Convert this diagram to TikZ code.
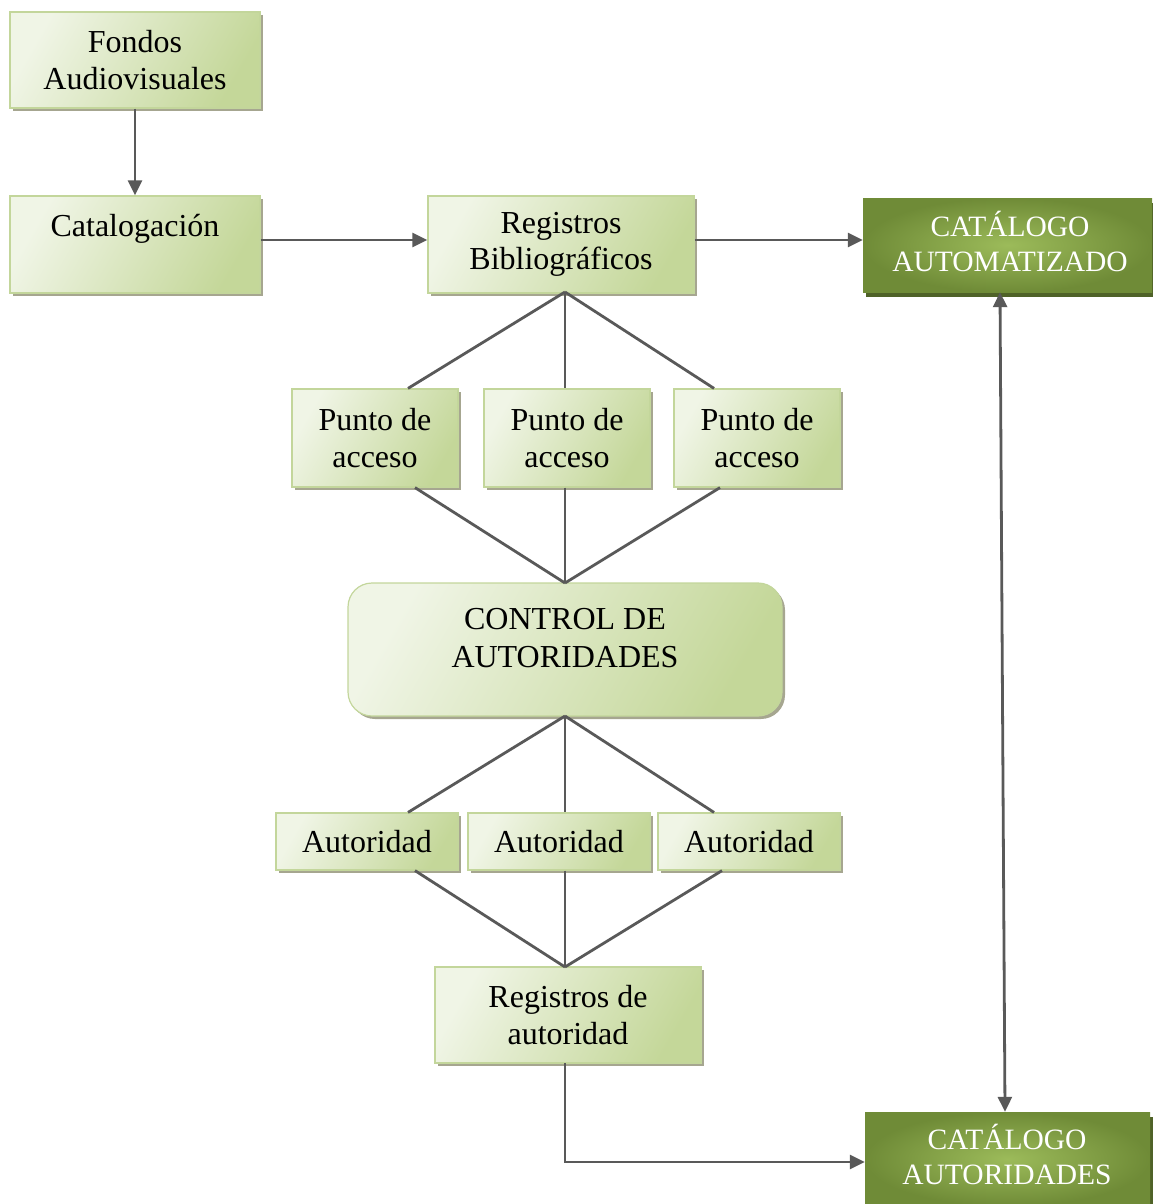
\documentclass[tikz,border=0pt]{standalone}
\usepackage{fontspec}
\setmainfont{Liberation Serif}
\usetikzlibrary{shadows,arrows.meta}
\definecolor{lgA}{HTML}{F0F5E6}
\definecolor{lgB}{HTML}{C4D799}
\definecolor{lgEdge}{HTML}{C3D69B}
\definecolor{dgIn}{HTML}{9CBB5A}
\definecolor{dgOut}{HTML}{6F8B37}
\definecolor{dgShadow}{HTML}{4F6228}
\definecolor{lgShadow}{HTML}{9C9C84}
\definecolor{wire}{HTML}{595959}
\tikzset{
  lightbox/.style={draw=lgEdge, line width=1.2pt, shading=axis, left color=lgA, right color=lgB,
    shading angle=60, align=center, font=\fontsize{32}{36.5}\selectfont, inner sep=0pt,
    drop shadow={shadow xshift=3pt, shadow yshift=-3pt, fill=lgShadow, opacity=0.9}},
  darkbox/.style={draw=none, inner color=dgIn, outer color=dgOut, inner sep=0pt,
    drop shadow={shadow xshift=3pt, shadow yshift=-5pt, fill=dgShadow, opacity=1}},
  plaintext/.style={align=center, font=\fontsize{32}{37.5}\selectfont, inner sep=0pt},
  darktext/.style={align=center, text=white, font=\fontsize{29.5}{35}\selectfont, inner sep=0pt},
  wireline/.style={draw=wire, line width=2.8pt},
  wirearrow/.style={wireline, -{Triangle[length=15pt, width=14pt]}},
  wirebiarrow/.style={wireline, {Triangle[length=15pt, width=14pt]}-{Triangle[length=15pt, width=14pt]}},
}
\begin{document}
\begin{tikzpicture}[x=1pt, y=-1pt]
\useasboundingbox (0,0) rectangle (1152,1204);

% top row
\node[lightbox, minimum width=250pt, minimum height=96pt] (fondos) at (135,60) {Fondos\\Audiovisuales};
\node[lightbox, minimum width=250pt, minimum height=97pt] (catal) at (135,244.5) {};
\node[plaintext] (catalt) at (135,229) {Catalogación};
\node[lightbox, minimum width=266pt, minimum height=97pt] (regbib) at (561,244.5) {Registros\\Bibliográficos};
\node[darkbox, minimum width=289pt, minimum height=94pt] (catauto) at (1007.5,245) {};
\node[darktext] (catautot) at (1010,241) {CATÁLOGO\\AUTOMATIZADO};

% access points
\node[lightbox, minimum width=166pt, minimum height=98pt] (p1) at (375,438) {Punto de\\acceso};
\node[lightbox, minimum width=166pt, minimum height=98pt] (p2) at (567,438) {Punto de\\acceso};
\node[lightbox, minimum width=166pt, minimum height=98pt] (p3) at (757,438) {Punto de\\acceso};

% authority control
\node[lightbox, rounded corners=24pt, minimum width=434pt, minimum height=133pt] (ctl) at (565,649.5) {};
\node[plaintext] (ctlt) at (565,638) {CONTROL DE\\AUTORIDADES};

% authorities
\node[lightbox, minimum width=182pt, minimum height=57pt] (a1) at (367,841.5) {Autoridad};
\node[lightbox, minimum width=182pt, minimum height=57pt] (a2) at (559,841.5) {Autoridad};
\node[lightbox, minimum width=182pt, minimum height=57pt] (a3) at (749,841.5) {Autoridad};

\node[lightbox, minimum width=266pt, minimum height=96pt] (regaut) at (568,1015) {Registros de\\autoridad};
\node[darkbox, minimum width=285pt, minimum height=94pt] (catautor) at (1007.5,1159) {};
\node[darktext] (catautort) at (1007,1154) {CATÁLOGO\\AUTORIDADES};

% arrows
\draw[wirearrow] (fondos.south) -- (catal.north);
\draw[wirearrow] (catal.east |- 0,240) -- (regbib.west |- 0,240);
\draw[wirearrow] (regbib.east |- 0,240) -- (catauto.west |- 0,240);

% fan from bibliographic records to access points
\coordinate (rbs) at (565,292);
\draw[wireline] (rbs) -- ([xshift=33pt]p1.north);
\draw[wireline] (rbs) -- (p2.north -| rbs);
\draw[wireline] (rbs) -- ([xshift=-43pt]p3.north);

% fan from access points to authority control
\coordinate (ctn) at (565,583);
\draw[wireline] ([xshift=40pt]p1.south) -- (ctn);
\draw[wireline] (p2.south -| ctn) -- (ctn);
\draw[wireline] ([xshift=-37pt]p3.south) -- (ctn);

% fan from authority control to authorities
\coordinate (cts) at (565,716);
\draw[wireline] (cts) -- ([xshift=41pt]a1.north);
\draw[wireline] (cts) -- (a2.north -| cts);
\draw[wireline] (cts) -- ([xshift=-35pt]a3.north);

% fan from authorities to authority records
\coordinate (ran) at (565,967);
\draw[wireline] ([xshift=48pt]a1.south) -- (ran);
\draw[wireline] (a2.south -| ran) -- (ran);
\draw[wireline] ([xshift=-27pt]a3.south) -- (ran);

% authority records to authority catalogue
\coordinate (ras) at (565,1063);
\draw[wirearrow] (ras) |- (catautor.west |- 0,1162);

% link between both catalogues
\draw[wirebiarrow] ([xshift=-7.5pt]catauto.south) -- ([xshift=-2.5pt]catautor.north);
\end{tikzpicture}
\end{document}
